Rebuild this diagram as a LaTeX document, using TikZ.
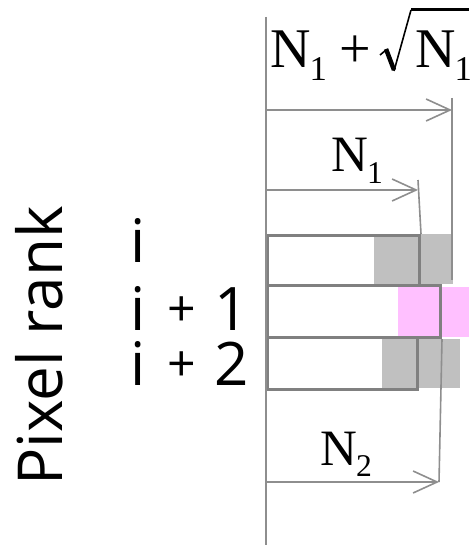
\RequirePackage{fix-cm}
\documentclass[tikz,border=0pt]{standalone}
\usepackage{fontspec}
\setmainfont{Liberation Serif}
\newfontfamily\labelfont{Open Sans}
\usetikzlibrary{arrows.meta}
\definecolor{edgegrey}{RGB}{128,128,128}
\definecolor{linegrey}{RGB}{142,142,142}
\definecolor{fillgrey}{RGB}{192,192,192}
\definecolor{fillpink}{RGB}{255,192,255}
\tikzset{
  rowbox/.style={rectangle, draw=edgegrey, line width=3pt, inner sep=0pt, anchor=north west},
  guide/.style={draw=linegrey, line width=1.6pt},
  dim/.style={guide, -{Straight Barb[length=24pt,width=22pt,line width=1.6pt]}},
  mathlbl/.style={inner sep=0pt, anchor=base west, font=\fontsize{51}{60}\selectfont},
  ranklbl/.style={inner sep=0pt, anchor=base west, font=\labelfont\fontsize{60}{70}\selectfont},
  pluslbl/.style={inner sep=0pt, font=\labelfont\fontsize{50}{60}\selectfont},
}
\newcommand{\Nsub}[1]{N\kern-1pt\raisebox{-0.22em}{\fontsize{0.62em}{1em}\selectfont#1}}
\begin{document}
\begin{tikzpicture}[x=1pt,y=-1pt]
  \useasboundingbox (0,0) rectangle (469,545);
  % shaded ends
  \fill[fillgrey] (374,234) rectangle (453,284);
  \fill[fillpink] (398,287) rectangle (469,337);
  \fill[fillgrey] (382,339) rectangle (460,388);
  % rows
  \node[rowbox, minimum width=152pt, minimum height=50pt] (rowA) at (266,234) {};
  \node[rowbox, minimum width=173pt, minimum height=52pt] (rowB) at (266,284) {};
  \node[rowbox, minimum width=150pt, minimum height=52pt] (rowC) at (266,336) {};
  % guide lines
  \coordinate (axtop) at (266,17);
  \coordinate (axbot) at (266,545);
  \coordinate (topL) at (266,110);
  \coordinate (topR) at (452,110);
  \coordinate (topend) at (452,98);
  \coordinate (topfoot) at (452,280);
  \coordinate (midL) at (266,190);
  \coordinate (midR) at (418,190);
  \coordinate (midend) at (418,180);
  \coordinate (lowL) at (266,482);
  \coordinate (lowR) at (439,482);
  \draw[guide] (axtop) -- (axbot);
  \draw[guide] (topend) -- (topfoot);
  \draw[guide] (midend) -- (rowA.north east);
  \draw[guide] (rowB.south east) -- (lowR);
  \draw[dim] (topL) -- (topR);
  \draw[dim] (midL) -- (midR);
  \draw[dim] (lowL) -- (lowR);
  % widths
  \node[mathlbl, font=\fontsize{56}{66}\selectfont] (wsum) at (270,68) {\Nsub{1}\kern12pt+};
  \node[mathlbl, font=\fontsize{56}{66}\selectfont] (wroot) at (415,68) {\Nsub{1}};
  \draw[line width=1.6pt] (380,55) -- (386,50);
  \draw[line width=4.5pt] (386,49) -- (394,70);
  \draw[line width=1.6pt] (394,71) -- (411,10);
  \draw[line width=3pt] (411,10) -- (469,10);
  \node[mathlbl] (wone) at (331,172) {\Nsub{1}};
  \node[mathlbl] (wtwo) at (320,465) {\Nsub{2}};
  % rank labels
  \node[ranklbl] (ri) at (130,262) {i};
  \node[ranklbl] (rj) at (130,330) {i};
  \node[pluslbl] (pj) at (182,312) {+};
  \node[ranklbl] (nj) at (214,330) {1};
  \node[ranklbl] (rk) at (130,385) {i};
  \node[pluslbl] (pk) at (182,367) {+};
  \node[ranklbl] (nk) at (214,385) {2};
  \node[inner sep=0pt, anchor=base, rotate=90, font=\labelfont\fontsize{62}{72}\selectfont] (axis) at (62,346) {Pixel rank};
\end{tikzpicture}
\end{document}
